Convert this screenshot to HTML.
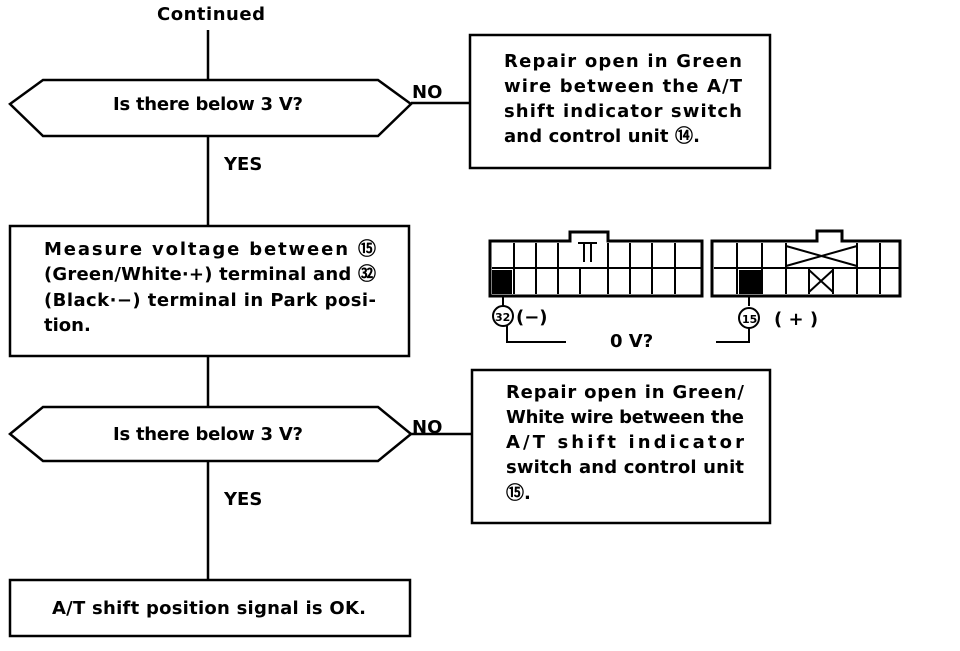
<!DOCTYPE html>
<html><head><style>
body{margin:0;background:#fff;}
svg text{font-family:"DejaVu Sans","Liberation Sans",sans-serif;font-weight:bold;font-size:18px;fill:#000;}
</style></head><body>
<svg width="960" height="646" viewBox="0 0 960 646" xmlns="http://www.w3.org/2000/svg">
<g stroke="#000" stroke-width="2.5" fill="none">
<line x1="208" y1="30" x2="208" y2="80"/>
<polygon points="10,104 43,80 378,80 411,104 378,136 43,136"/>
<line x1="411" y1="103" x2="470" y2="103"/>
<rect x="470" y="35" width="300" height="133"/>
<line x1="208" y1="136" x2="208" y2="226"/>
<rect x="10" y="226" width="399" height="130"/>
<line x1="208" y1="356" x2="208" y2="407"/>
<polygon points="10,434 43,407 378,407 411,434 378,461 43,461"/>
<line x1="411" y1="434" x2="472" y2="434"/>
<rect x="472" y="370" width="298" height="153"/>
<line x1="208" y1="461" x2="208" y2="580"/>
<rect x="10" y="580" width="400" height="56"/>
</g>
<text x="157" y="20" textLength="108">Continued</text>
<text x="113" y="110" textLength="190">Is there below 3 V?</text>
<text x="412" y="98">NO</text>
<text x="224" y="170">YES</text>
<text x="504" y="67" textLength="238">Repair open in Green</text>
<text x="504" y="92" textLength="238">wire between the A/T</text>
<text x="504" y="117" textLength="238">shift indicator switch</text>
<text x="504" y="142" textLength="196">and control unit ⑭.</text>
<text x="44" y="255" textLength="332">Measure voltage between ⑮</text>
<text x="44" y="280" textLength="332">(Green/White·+) terminal and ㉜</text>
<text x="44" y="306" textLength="332">(Black·−) terminal in Park posi-</text>
<text x="44" y="331">tion.</text>
<text x="113" y="440" textLength="190">Is there below 3 V?</text>
<text x="412" y="433">NO</text>
<text x="224" y="505">YES</text>
<text x="506" y="398" textLength="238">Repair open in Green/</text>
<text x="506" y="423" textLength="238">White wire between the</text>
<text x="506" y="448" textLength="238">A/T shift indicator</text>
<text x="506" y="473" textLength="238">switch and control unit</text>
<text x="506" y="499">⑮.</text>
<text x="52" y="614" textLength="314">A/T shift position signal is OK.</text>
<g stroke="#000" stroke-width="3" fill="none">
<path d="M490,241 H570 V232 H608 V241 H702 V296 H490 Z"/>
<path d="M712,241 H817 V231 H842 V241 H900 V296 H712 Z"/>
</g>
<g stroke="#000" stroke-width="2" fill="none">
<line x1="492" y1="268" x2="702" y2="268"/>
<line x1="514" y1="243" x2="514" y2="294"/><line x1="536" y1="243" x2="536" y2="294"/><line x1="558" y1="243" x2="558" y2="294"/>
<line x1="580" y1="268" x2="580" y2="294"/><line x1="608" y1="243" x2="608" y2="294"/><line x1="630" y1="243" x2="630" y2="294"/>
<line x1="652" y1="243" x2="652" y2="294"/><line x1="675" y1="243" x2="675" y2="294"/>
<path d="M578,243 H597 M584,243 V262 M591,243 V262"/>
<line x1="714" y1="268" x2="900" y2="268"/>
<line x1="737" y1="243" x2="737" y2="294"/><line x1="762" y1="243" x2="762" y2="294"/><line x1="786" y1="243" x2="786" y2="294"/>
<line x1="809" y1="268" x2="809" y2="294"/><line x1="833" y1="268" x2="833" y2="294"/><line x1="857" y1="243" x2="857" y2="294"/><line x1="880" y1="243" x2="880" y2="294"/>
<path d="M786,246 L857,266 M786,266 L857,246 M809,270 L833,292 M809,292 L833,270"/>
</g>
<rect x="492" y="270" width="20" height="24" fill="#000"/>
<rect x="739" y="270" width="22" height="24" fill="#000"/>
<g stroke="#000" stroke-width="2" fill="none">
<line x1="503" y1="296" x2="503" y2="306"/>
<circle cx="503" cy="316" r="10"/>
<path d="M507,326 V342 H566"/>
<line x1="749" y1="296" x2="749" y2="306"/>
<circle cx="749" cy="318" r="10"/>
<path d="M749,328 V342 H716"/>
</g>
<text x="495" y="321" style="font-size:11px">32</text>
<text x="742" y="323" style="font-size:11px">15</text>
<text x="516" y="323">(−)</text>
<text x="774" y="325">( + )</text>
<text x="610" y="347">0 V?</text>
</svg>
</body></html>
